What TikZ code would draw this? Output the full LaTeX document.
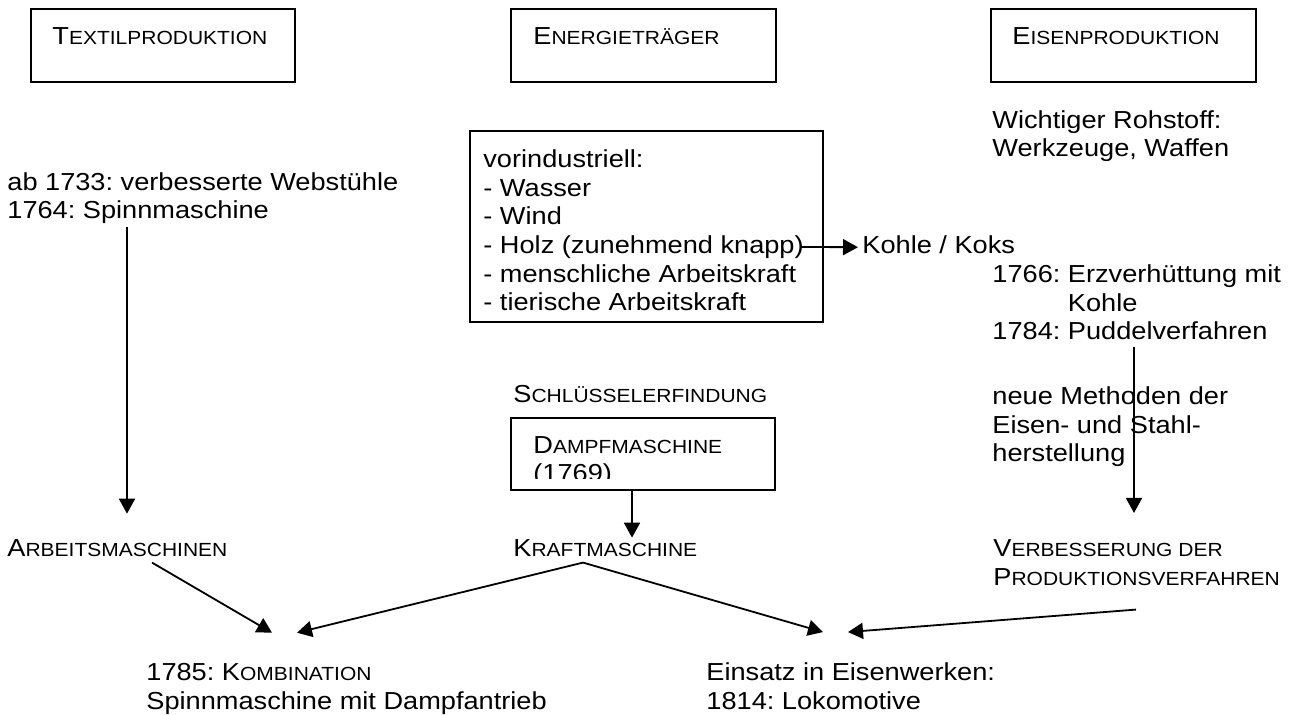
\documentclass[tikz,border=0pt]{standalone}
\usepackage{fontspec}
\setmainfont{Liberation Sans}[FakeStretch=1.105]
\usepackage{tikz}
\usetikzlibrary{arrows.meta,calc}
\frenchspacing
\newcommand{\grundschrift}{\fontsize{12.3}{14.35}\selectfont}
\newcommand{\kap}[1]{{\fontsize{9.5}{14.35}\selectfont #1}}
\tikzset{
  rahmen/.style={draw, line width=0.9pt, inner sep=0pt},
  txt/.style={anchor=base west, inner sep=0pt, align=left, font=\grundschrift},
  pfeil/.style={-{Triangle[length=7.5pt,width=8pt]}, line width=0.9pt},
}

\begin{document}
\begin{tikzpicture}[x=0.5pt,y=-0.5pt]
  \useasboundingbox (0,0) rectangle (1295,715);
  % headline boxes (text nodes sit on the baseline of their last line)
  \node[rahmen, minimum width=132pt, minimum height=36.5pt] (textilrahmen) at (163,45.5) {};
  \node[rahmen, minimum width=132.5pt, minimum height=36.5pt] (energierahmen) at (643.5,45.5) {};
  \node[rahmen, minimum width=132.5pt, minimum height=36.5pt] (eisenrahmen) at (1123.5,45.5) {};
  \node[txt] (textil) at (52,45) {T\kap{EXTILPRODUKTION}};
  \node[txt] (energie) at (533,45) {E\kap{NERGIETRÄGER}};
  \node[txt] (eisen) at (1012,45) {E\kap{ISENPRODUKTION}};
  % textile column
  \node[txt] (webstuhl) at (7,219) {ab 1733: verbesserte Webstühle\\1764: Spinnmaschine};
  \node[txt] (arbeit) at (7,557) {A\kap{RBEITSMASCHINEN}};
  % energy column
  \node[rahmen, minimum width=176.5pt, minimum height=95.5pt] (listenrahmen) at (646.5,226.5) {};
  \node[txt] (liste) at (483,311) {vorindustriell:\\- Wasser\\- Wind\\- Holz (zunehmend knapp)\\- menschliche Arbeitskraft\\- tierische Arbeitskraft};
  \coordinate (holzende) at (800,247);
  \node[txt] (kohle) at (862,254) {Kohle / Koks};
  \node[txt] (schluessel) at (513,403) {S\kap{CHLÜSSELERFINDUNG}};
  \node[rahmen, minimum width=132pt, minimum height=36pt] (dampfrahmen) at (643,454) {};
  \begin{scope}
    \clip (511,418) rectangle (775,479);
    \node[txt] (dampf) at (533,482) {D\kap{AMPFMASCHINE}\\(1769)};
  \end{scope}
  \node[txt] (kraft) at (513,557) {K\kap{RAFTMASCHINE}};
  % iron column
  \node[txt] (rohstoff) at (992,157) {Wichtiger Rohstoff:\\Werkzeuge, Waffen};
  \node[txt] (verfahren) at (992,340) {1766: Erzverhüttung mit\\\phantom{1766:~}Kohle\\1784: Puddelverfahren};
  \node[txt] (methoden) at (992,462) {neue Methoden der\\Eisen- und Stahl-\\herstellung};
  \node[txt] (verbess) at (993,585) {V\kap{ERBESSERUNG DER}\\P\kap{RODUKTIONSVERFAHREN}};
  % results
  \node[txt] (kombi) at (146,709) {1785: K\kap{OMBINATION}\\Spinnmaschine mit Dampfantrieb};
  \node[txt] (einsatz) at (706,709) {Einsatz in Eisenwerken:\\1814: Lokomotive};
  % arrows
  \draw[pfeil] ($(webstuhl.south west)+(120,2)$) -- ($(arbeit.north west)+(120,-26)$);
  \draw[pfeil] (holzende) -- ($(kohle.west)+(-4,2)$);
  \draw[pfeil] ($(dampfrahmen.south)+(-11,0)$) -- ($(kraft.north west)+(119,-2)$);
  \draw[pfeil] ($(verfahren.south west)+(142,6)$) -- ($(verbess.north west)+(141,-26)$);
  \draw[pfeil] ($(arbeit.south west)+(145,5)$) -- ($(kombi.north west)+(126,-30)$);
  \draw[pfeil] ($(kraft.south west)+(70,5)$) -- ($(kombi.north west)+(151,-30)$);
  \draw[pfeil] ($(kraft.south west)+(70,5)$) -- ($(einsatz.north west)+(117,-30)$);
  \draw[pfeil] ($(verbess.south west)+(143,24)$) -- ($(einsatz.north west)+(142,-30)$);
\end{tikzpicture}
\end{document}
